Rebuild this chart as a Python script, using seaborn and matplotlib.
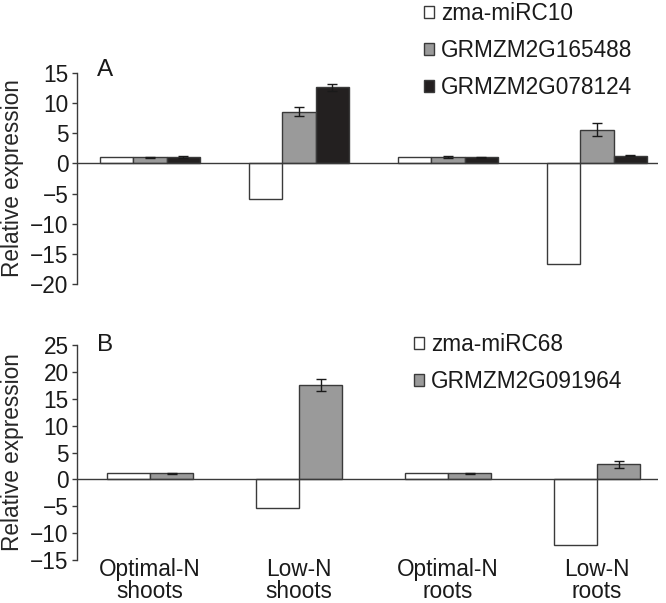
import pandas as pd
import matplotlib
matplotlib.use("Agg")
import matplotlib.pyplot as plt
from matplotlib.patches import Patch
import seaborn as sns

# data
conditions = ["Optimal-N\nshoots", "Low-N\nshoots", "Optimal-N\nroots", "Low-N\nroots"]

a_genes = ["zma-miRC10", "GRMZM2G165488", "GRMZM2G078124"]
a_mir = [1.0, -5.9, 1.0, -16.7]
a_g1 = [1.0, 8.6, 1.0, 5.6]
a_g1_err = [0.12, 0.75, 0.15, 1.1]
a_g2 = [1.05, 12.6, 1.0, 1.3]
a_g2_err = [0.15, 0.6, 0.05, 0.15]

b_genes = ["zma-miRC68", "GRMZM2G091964"]
b_mir = [1.1, -5.3, 1.1, -12.3]
b_g = [1.1, 17.5, 1.1, 2.8]
b_g_err = [0.1, 1.1, 0.1, 0.7]

colors = ["white", "#9a9a9a", "#231f20"]
edge = "#3a3a3a"
fs = 16.3

sns.set_style("white")
plt.rcParams["font.family"] = ["Liberation Sans", "DejaVu Sans"]
plt.rcParams["font.size"] = fs
plt.rcParams["text.color"] = "#1a1a1a"
plt.rcParams["ytick.labelcolor"] = "#1a1a1a"
plt.rcParams["xtick.labelcolor"] = "#1a1a1a"

fig = plt.figure(figsize=(6.66, 6.03), dpi=100)
axA = fig.add_axes([77 / 666, 1 - 284 / 603, 581 / 666, 211 / 603])
axB = fig.add_axes([77 / 666, 1 - 560 / 603, 581 / 666, 215 / 603])


def panel(ax, genes, series, errs, width):
    df = pd.DataFrame({
        "cond": [c for _ in genes for c in conditions],
        "gene": [g for g in genes for _ in conditions],
        "val": [v for s in series for v in s],
    })
    sns.barplot(data=df, x="cond", y="val", hue="gene", order=conditions,
                hue_order=genes, palette=dict(zip(genes, colors)),
                edgecolor=edge, linewidth=1, width=width, errorbar=None,
                legend=False, ax=ax)
    for cont, vals, err in zip(ax.containers, series, errs):
        if err is None:
            continue
        xs = [b.get_x() + b.get_width() / 2 for b in cont]
        ax.errorbar(xs, vals, yerr=err, fmt="none", ecolor="#1a1a1a",
                    elinewidth=1, capsize=3.6, capthick=1)
    ax.axhline(0, color=edge, lw=1, zorder=5)
    ax.set_xlim(-0.49, 3.41)
    ax.set_xlabel("")
    ax.set_ylabel("Relative expression", fontsize=fs)
    ax.yaxis.set_label_coords(-0.092, 0.5)
    for s in ["top", "right", "bottom"]:
        ax.spines[s].set_visible(False)
    ax.spines["left"].set_color(edge)
    ax.spines["left"].set_linewidth(1)
    ax.tick_params(axis="y", direction="out", length=3.6, width=1,
                   color=edge, pad=2.5, labelsize=fs, left=True)
    ax.tick_params(axis="x", length=0)


panel(axA, a_genes, [a_mir, a_g1, a_g2], [None, a_g1_err, a_g2_err], 0.67)
axA.set_ylim(-20, 15)
axA.set_yticks(range(-20, 16, 5))
axA.set_xticklabels([])
axA.text(105 / 666, 1 - 70 / 603, "A", transform=fig.transFigure,
         ha="center", va="center", fontsize=17.5)

panel(axB, b_genes, [b_mir, b_g], [None, b_g_err], 0.58)
axB.set_ylim(-15, 25)
axB.set_yticks(range(-15, 26, 5))
axB.set_xticklabels(conditions, linespacing=0.95)
axB.tick_params(axis="x", pad=-1.5, labelsize=fs)
axB.text(105 / 666, 1 - 345 / 603, "B", transform=fig.transFigure,
         ha="center", va="center", fontsize=17.5)

leg_kw = dict(frameon=False, loc="upper left", handlelength=0.46,
              handleheight=0.46, handletextpad=0.3, labelspacing=0.62,
              borderpad=0, borderaxespad=0, fontsize=fs)
fig.legend([Patch(facecolor=c, edgecolor=edge, lw=1) for c in colors],
           a_genes, bbox_to_anchor=(424 / 666, 1 - 2 / 603), **leg_kw)
fig.legend([Patch(facecolor=c, edgecolor=edge, lw=1) for c in colors[:2]],
           b_genes, bbox_to_anchor=(414 / 666, 1 - 333 / 603), **leg_kw)

fig.savefig("out.png", dpi=100)
